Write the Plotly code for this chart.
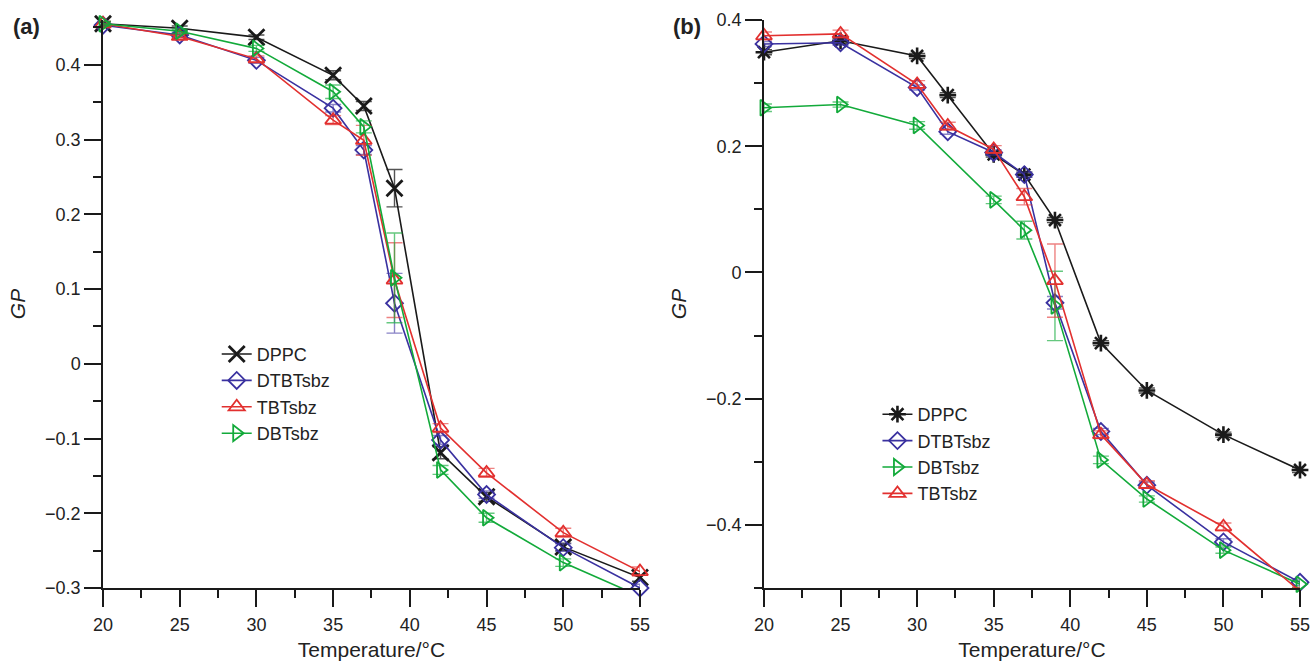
import plotly.graph_objects as go

# ---------------- Data ----------------
temp_a = [20, 25, 30, 35, 37, 39, 42, 45, 50, 55]
a_dppc = [0.455, 0.449, 0.437, 0.386, 0.345, 0.235, -0.119, -0.178, -0.245, -0.286]
a_dppc_err = [0.003, 0.003, 0.003, 0.006, 0.006, 0.025, 0.008, 0.006, 0.005, 0.005]
a_dtbt = [0.453, 0.440, 0.406, 0.342, 0.286, 0.081, -0.102, -0.175, -0.246, -0.300]
a_dtbt_err = [0.003, 0.003, 0.004, 0.005, 0.006, 0.04, 0.006, 0.005, 0.005, 0.005]
a_tbt = [0.455, 0.438, 0.408, 0.326, 0.299, 0.112, -0.086, -0.146, -0.226, -0.278]
a_tbt_err = [0.003, 0.003, 0.004, 0.006, 0.02, 0.05, 0.006, 0.006, 0.006, 0.006]
a_dbt = [0.455, 0.445, 0.422, 0.364, 0.317, 0.115, -0.142, -0.206, -0.266, -0.311]
a_dbt_err = [0.003, 0.003, 0.004, 0.009, 0.008, 0.06, 0.006, 0.006, 0.005, 0.005]

temp_b = [20, 25, 30, 32, 35, 37, 39, 42, 45, 50, 55]
temp_b_dbt = [20, 25, 30, 35, 37, 39, 42, 45, 50, 55]
b_dppc = [0.349, 0.367, 0.343, 0.281, 0.187, 0.155, 0.083, -0.112, -0.187, -0.257, -0.313]
b_dppc_err = [0.004, 0.004, 0.004, 0.004, 0.004, 0.004, 0.004, 0.004, 0.004, 0.004, 0.004]
b_dtbt = [0.362, 0.364, 0.293, 0.223, 0.190, 0.155, -0.048, -0.252, -0.337, -0.427, -0.491]
b_dtbt_err = [0.004, 0.004, 0.004, 0.004, 0.004, 0.004, 0.01, 0.005, 0.005, 0.005, 0.005]
b_tbt = [0.375, 0.378, 0.298, 0.232, 0.195, 0.120, -0.013, -0.257, -0.336, -0.403, -0.505]
b_tbt_err = [0.006, 0.006, 0.006, 0.006, 0.006, 0.013, 0.058, 0.006, 0.006, 0.006, 0.006]
b_dbt = [0.261, 0.266, 0.233, 0.115, 0.067, -0.053, -0.297, -0.359, -0.440, -0.494]
b_dbt_err = [0.006, 0.004, 0.006, 0.006, 0.014, 0.055, 0.006, 0.005, 0.005, 0.005]

x_ticks = [20, 25, 30, 35, 40, 45, 50, 55]

BLACK = "#1a1a1a"
BLUE = "#3a31a0"
RED = "#e2302f"
GREEN = "#12aa3a"
ERR = {BLACK: "rgba(26,26,26,0.75)", BLUE: "rgba(58,49,160,0.6)",
       RED: "rgba(226,48,47,0.6)", GREEN: "rgba(18,170,58,0.65)"}

FONT = "Liberation Sans, Arial, sans-serif"
TXT = "#222"

fig = go.Figure()


def add(x, y, err, name, color, symbol, size, xa, ya, legend, lw=1.6, mlw=1.8):
    fig.add_trace(go.Scatter(
        x=x, y=y, name=name, mode="lines+markers",
        xaxis=xa, yaxis=ya, legend=legend, cliponaxis=False,
        line=dict(color=color, width=lw),
        marker=dict(symbol=symbol, size=size, color=color,
                    line=dict(color=color, width=mlw)),
        error_y=dict(type="data", array=err, visible=True,
                     color=ERR[color], thickness=1.4, width=8),
    ))


# Panel (a)
add(temp_a, a_dppc, a_dppc_err, "DPPC", BLACK, "x-thin-open", 16, "x", "y", "legend", mlw=2.8)
add(temp_a, a_dtbt, a_dtbt_err, "DTBTsbz", BLUE, "diamond-open", 13, "x", "y", "legend")
add(temp_a, a_tbt, a_tbt_err, "TBTsbz", RED, "triangle-up-open", 14, "x", "y", "legend")
add(temp_a, a_dbt, a_dbt_err, "DBTsbz", GREEN, "triangle-right-open", 14, "x", "y", "legend")

# Panel (b)
add(temp_b, b_dppc, b_dppc_err, "DPPC", BLACK, "asterisk-open", 14, "x2", "y2", "legend2", mlw=2.6)
add(temp_b, b_dtbt, b_dtbt_err, "DTBTsbz", BLUE, "diamond-open", 13, "x2", "y2", "legend2")
add(temp_b_dbt, b_dbt, b_dbt_err, "DBTsbz", GREEN, "triangle-right-open", 14, "x2", "y2", "legend2")
add(temp_b, b_tbt, b_tbt_err, "TBTsbz", RED, "triangle-up-open", 14, "x2", "y2", "legend2")

axis_common = dict(
    showline=True, linecolor=BLACK, linewidth=1.5, mirror=False,
    showgrid=False, zeroline=False, ticks="outside", ticklen=17,
    tickwidth=1.5, tickcolor=BLACK, automargin=False,
    tickfont=dict(family=FONT, size=18, color=TXT),
)

xa = dict(axis_common, range=[20, 55], tickvals=x_ticks,
          minor=dict(dtick=2.5, tick0=20, ticks="outside", ticklen=8,
                     tickwidth=1.5, tickcolor=BLACK, showgrid=False),
          title=dict(text="Temperature/°C", font=dict(family=FONT, size=21, color=TXT),
                     standoff=8),
          ticklabelstandoff=3)

ya_title = dict(text="<i>GP</i>", font=dict(family=FONT, size=21, color=TXT), standoff=14)

fig.update_layout(
    width=1311, height=663,
    template="none",
    paper_bgcolor="white", plot_bgcolor="white",
    margin=dict(l=103, r=11, t=20, b=75, autoexpand=False),
    showlegend=True,
    xaxis=dict(xa, domain=[0, 0.4486], anchor="y"),
    xaxis2=dict(xa, domain=[0.5522, 1.0], anchor="y2"),
    yaxis=dict(axis_common, range=[-0.3, 0.46], dtick=0.1, tick0=0,
               tickformat=".1~f",
               minor=dict(dtick=0.05, tick0=0, ticks="outside", ticklen=8,
                          tickwidth=1.5, tickcolor=BLACK, showgrid=False),
               title=ya_title, anchor="x", domain=[0, 1]),
    yaxis2=dict(axis_common, range=[-0.5, 0.4], dtick=0.2, tick0=0,
                tickformat=".1~f",
                minor=dict(dtick=0.1, tick0=0, ticks="outside", ticklen=8,
                           tickwidth=1.5, tickcolor=BLACK, showgrid=False),
                title=ya_title, anchor="x2", domain=[0, 1]),
    legend=dict(x=0.095, y=0.444, xanchor="left", yanchor="top",
                bgcolor="rgba(0,0,0,0)", borderwidth=0,
                font=dict(family=FONT, size=18, color=TXT)),
    legend2=dict(x=0.647, y=0.338, xanchor="left", yanchor="top",
                 bgcolor="rgba(0,0,0,0)", borderwidth=0,
                 font=dict(family=FONT, size=18, color=TXT)),
    annotations=[
        dict(text="<b>(a)</b>", xref="paper", yref="paper", x=-0.0635, y=0.988,
             xanchor="center", yanchor="middle", showarrow=False,
             font=dict(family=FONT, size=22, color=TXT)),
        dict(text="<b>(b)</b>", xref="paper", yref="paper", x=0.4878, y=0.988,
             xanchor="center", yanchor="middle", showarrow=False,
             font=dict(family=FONT, size=22, color=TXT)),
    ],
)

fig.write_html("out.html",
               config={"displayModeBar": False},
               post_script="document.body.style.margin='0';document.body.style.overflow='hidden';")
